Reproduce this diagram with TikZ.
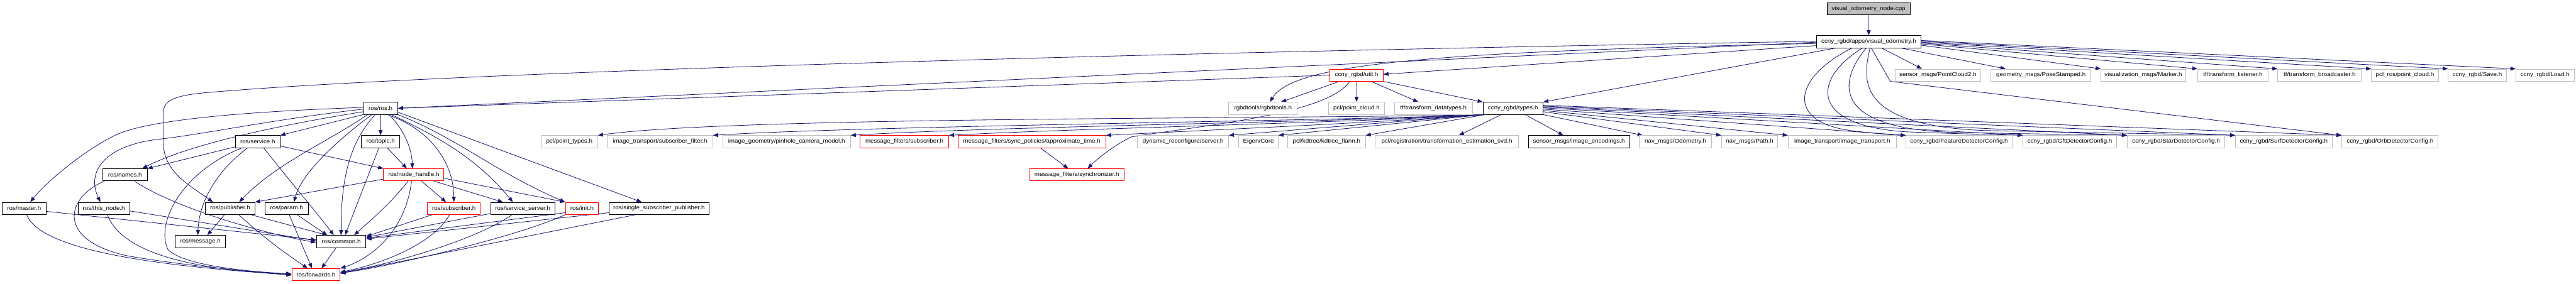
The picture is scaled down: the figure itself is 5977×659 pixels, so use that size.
\documentclass[tikz,border=0pt]{standalone}
\usepackage{fontspec}
\usetikzlibrary{arrows.meta,backgrounds}
\newfontfamily\nf[FakeStretch=1.1]{Liberation Sans}
\definecolor{eblue}{HTML}{191970}
\definecolor{gbord}{HTML}{BFBFBF}
\definecolor{rootfill}{HTML}{BFBFBF}
\tikzset{
  box/.style={draw, rectangle, fill=white, minimum height=28pt, inner sep=0pt, line width=1.3pt, font=\nf\fontsize{13}{15}\selectfont, text=black},
  bk/.style={box, draw=black},
  rd/.style={box, draw=red},
  gy/.style={box, draw=gbord},
  rt/.style={box, draw=black, fill=rootfill},
  e/.style={draw=eblue, line width=1.2pt, -{Triangle[length=12pt,width=9pt]}},
}
\begin{document}
\begin{tikzpicture}[x=1pt,y=-1pt]
% row 0
\node[rt, minimum width=193pt] (root) at (4335.5,20) {visual\_odometry\_node.cpp};
% row 1
\node[bk, minimum width=242pt] (vo) at (4336,97) {ccny\_rgbd/apps/visual\_odometry.h};
% row 2
\node[rd, minimum width=123pt] (util) at (3147.5,174.5) {ccny\_rgbd/util.h};
\node[gy, minimum width=199pt] (pctwo) at (4496.5,174.5) {sensor\_msgs/PointCloud2.h};
\node[gy, minimum width=232pt] (pose) at (4735.5,174.5) {geometry\_msgs/PoseStamped.h};
\node[gy, minimum width=196pt] (marker) at (4973,174.5) {visualization\_msgs/Marker.h};
\node[gy, minimum width=164pt] (tfl) at (5181,174.5) {tf/transform\_listener.h};
\node[gy, minimum width=194pt] (tfb) at (5382,174.5) {tf/transform\_broadcaster.h};
\node[gy, minimum width=155pt] (pclros) at (5580,174.5) {pcl\_ros/point\_cloud.h};
\node[gy, minimum width=135pt] (save) at (5748,174.5) {ccny\_rgbd/Save.h};
\node[gy, minimum width=135pt] (load) at (5905,174.5) {ccny\_rgbd/Load.h};
% row 3
\node[bk, minimum width=79pt] (ros) at (883,251.5) {ros/ros.h};
\node[gy, minimum width=159pt] (rgbd) at (2930.5,251.5) {rgbdtools/rgbdtools.h};
\node[gy, minimum width=129pt] (pclpc) at (3147.5,251.5) {pcl/point\_cloud.h};
\node[gy, minimum width=182pt] (tfdt) at (3326,251.5) {tf/transform\_datatypes.h};
\node[bk, minimum width=139pt] (types) at (3510.5,251.5) {ccny\_rgbd/types.h};
% row 4
\node[bk, minimum width=103pt] (service) at (598,329) {ros/service.h};
\node[bk, minimum width=89pt] (topic) at (883,329) {ros/topic.h};
\node[gy, minimum width=131pt] (ptypes) at (1321,329) {pcl/point\_types.h};
\node[gy, minimum width=244pt] (subfilt) at (1531.5,329) {image\_transport/subscriber\_filter.h};
\node[gy, minimum width=296pt] (pinhole) at (1825,329) {image\_geometry/pinhole\_camera\_model.h};
\node[rd, minimum width=205pt] (mfsub) at (2098.5,329) {message\_filters/subscriber.h};
\node[rd, minimum width=343pt] (approx) at (2394,329) {message\_filters/sync\_policies/approximate\_time.h};
\node[gy, minimum width=211pt] (dynrec) at (2745,329) {dynamic\_reconfigure/server.h};
\node[gy, minimum width=91pt] (eigen) at (2920,329) {Eigen/Core};
\node[gy, minimum width=180pt] (kdtree) at (3078,329) {pcl/kdtree/kdtree\_flann.h};
\node[gy, minimum width=333pt] (svd) at (3357,329) {pcl/registration/transformation\_estimation\_svd.h};
\node[bk, minimum width=235pt] (enc) at (3663.5,329) {sensor\_msgs/image\_encodings.h};
\node[gy, minimum width=167pt] (odom) at (3887.5,329) {nav\_msgs/Odometry.h};
\node[gy, minimum width=130pt] (npath) at (4059.5,329) {nav\_msgs/Path.h};
\node[gy, minimum width=251pt] (itrans) at (4274.5,329) {image\_transport/image\_transport.h};
\node[gy, minimum width=246pt] (feat) at (4545.5,329) {ccny\_rgbd/FeatureDetectorConfig.h};
\node[gy, minimum width=217pt] (gft) at (4802.5,329) {ccny\_rgbd/GftDetectorConfig.h};
\node[gy, minimum width=226pt] (star) at (5049,329) {ccny\_rgbd/StarDetectorConfig.h};
\node[gy, minimum width=224pt] (surf) at (5299,329) {ccny\_rgbd/SurfDetectorConfig.h};
\node[gy, minimum width=223pt] (orb) at (5545.5,329) {ccny\_rgbd/OrbDetectorConfig.h};
% row 5
\node[bk, minimum width=103pt] (names) at (290,406) {ros/names.h};
\node[rd, minimum width=140pt] (nh) at (960,406) {ros/node\_handle.h};
\node[rd, minimum width=219pt] (sync) at (2498.5,406) {message\_filters/synchronizer.h};
% row 6
\node[bk, minimum width=103pt] (master) at (56,484) {ros/master.h};
\node[bk, minimum width=120pt] (thisnode) at (241,484) {ros/this\_node.h};
\node[bk, minimum width=114pt] (publisher) at (534,484) {ros/publisher.h};
\node[bk, minimum width=100pt] (param) at (665,484) {ros/param.h};
\node[rd, minimum width=122pt] (subscriber) at (1053,484) {ros/subscriber.h};
\node[bk, minimum width=149pt] (sserver) at (1213,484) {ros/service\_server.h};
\node[rd, minimum width=77pt] (init) at (1350.5,484) {ros/init.h};
\node[bk, minimum width=232pt] (ssp) at (1529,484) {ros/single\_subscriber\_publisher.h};
% row 7
\node[bk, minimum width=117pt] (message) at (465,561) {ros/message.h};
\node[bk, minimum width=115pt] (common) at (791.5,561) {ros/common.h};
% row 8
\node[rd, minimum width=112pt] (forwards) at (733,638) {ros/forwards.h};

\begin{scope}[on background layer]
\fill[white] (0,0) rectangle (5977,659);
% root
\draw[e] (root) -- (vo);
% visual_odometry.h
\draw[e] ([yshift=-1pt]vo.west) -- (ros.east);
\draw[e] ([yshift=1pt]vo.west) .. controls (2500,125) and (1000,170) .. (480,215) .. controls (400,222) and (379,235) .. (379,262) -- (379,330) .. controls (379,400) and (440,430) .. ([xshift=-40pt]publisher.north);
\draw[e] ([yshift=-9pt]vo.west) -- ([yshift=2pt]util.east);
\draw[e] ([yshift=-4pt]vo.west) .. controls (3300,120) and (3000,150) .. ([xshift=16pt]rgbd.north);
\draw[e] ([xshift=-77pt]vo.south) -- (types.north east);
\draw[e] ([xshift=30pt]vo.south) -- ([xshift=-37pt]pctwo.north);
\draw[e] ([xshift=75pt]vo.south) -- ([xshift=-82pt]pose.north);
\draw[e] ([yshift=-8pt]vo.east) -- (marker.north west);
\draw[e] ([yshift=-5pt]vo.east) -- (tfl.north west);
\draw[e] ([yshift=-3pt]vo.east) -- (tfb.north west);
\draw[e] ([yshift=-1pt]vo.east) -- (pclros.north west);
\draw[e] ([yshift=1pt]vo.east) -- (save.north west);
\draw[e] ([yshift=3pt]vo.east) -- (load.north west);
\draw[e] ([xshift=-39pt]vo.south) .. controls (4160,180) and (4140,285) .. (4300,304) .. controls (4370,312) and (4400,314) .. (feat.north west);
\draw[e] ([xshift=-15pt]vo.south) .. controls (4210,180) and (4190,290) .. (4420,306) .. controls (4600,313) and (4660,313) .. (gft.north west);
\draw[e] ([xshift=-6pt]vo.south) .. controls (4265,190) and (4250,295) .. (4520,307) .. controls (4800,313) and (4900,313) .. (star.north west);
\draw[e] ([xshift=3pt]vo.south) .. controls (4320,190) and (4310,290) .. (4600,303) .. controls (5000,311) and (5150,313) .. (surf.north west);
\draw[e] ([xshift=6pt]vo.south) -- (4386,189) -- (orb.north west);
% types.h
\draw[e] ([xshift=28pt]types.south) -- ([xshift=-36pt]enc.north);
\draw[e] (types.south east) -- ([xshift=-76pt]odom.north);
\draw[e] ([yshift=-8pt]types.east) -- (npath.north west);
\draw[e] ([yshift=-5pt]types.east) -- (itrans.north west);
\draw[e] ([yshift=-2pt]types.east) -- (feat.north west);
\draw[e] ([yshift=1pt]types.east) -- (gft.north west);
\draw[e] ([yshift=3pt]types.east) -- (star.north west);
\draw[e] ([yshift=5pt]types.east) -- (surf.north west);
\draw[e] ([yshift=7pt]types.east) -- (orb.north west);
\draw[e] ([xshift=-27pt]types.south) -- ([xshift=28pt]svd.north);
\draw[e] ([xshift=6pt]types.south west) -- (kdtree.north east);
\draw[e] ([xshift=4pt]types.south west) -- (eigen.north east);
\draw[e] ([xshift=2pt]types.south west) -- (dynrec.north east);
\draw[e] (types.south west) .. controls (3200,285) and (2800,302) .. (approx.north east);
\draw[e] (types.south west) .. controls (3200,283) and (2500,298) .. (mfsub.north east);
\draw[e] (types.south west) .. controls (3200,281) and (2300,294) .. (pinhole.north east);
\draw[e] (types.south west) .. controls (3200,279) and (2000,292) .. (subfilt.north east);
\draw[e] (types.south west) .. controls (3000,277) and (1700,270) .. (ptypes.north east);
% util.h
\draw[e] (util.west) -- (ros.east);
\draw[e] ([xshift=-40pt]util.south) -- ([xshift=42pt]rgbd.north);
\draw[e] (util.south) -- (pclpc.north);
\draw[e] ([xshift=34pt]util.south) -- ([xshift=-35pt]tfdt.north);
\draw[e] (util.south east) -- (types.north west);
\draw[e] ([xshift=-16pt]util.south) .. controls (3080,265) and (2800,290) .. (2625,318) .. controls (2580,340) and (2545,370) .. ([xshift=25pt]sync.north);
\draw[e] ([xshift=20pt]approx.south) -- ([xshift=-20pt]sync.north);
% ros/ros.h
\draw[e] (ros.south) -- (topic.north);
\draw[e] ([yshift=2pt]ros.west) .. controls (600,258) and (360,275) .. (274,311) .. controls (200,345) and (110,420) .. ([xshift=14pt]master.north);
\draw[e] ([yshift=-2pt]ros.west) .. controls (650,275) and (480,310) .. (380,322) .. controls (240,335) and (200,400) .. ([xshift=-8pt]thisnode.north);
\draw[e] ([yshift=-8pt]ros.west) .. controls (650,290) and (440,335) .. ([xshift=40pt]names.north);
\draw[e] (ros.south west) -- (service.north east);
\draw[e] ([xshift=-30pt]ros.south) .. controls (760,330) and (640,380) .. ([xshift=21pt]publisher.north);
\draw[e] ([xshift=-20pt]ros.south) .. controls (790,320) and (700,400) .. ([xshift=17pt]param.north);
\draw[e] ([xshift=-12pt]ros.south) .. controls (810,330) and (791,420) .. (common.north);
\draw[e] ([xshift=20pt]ros.south) .. controls (935,300) and (955,340) .. ([xshift=-3pt]nh.north);
\draw[e] ([xshift=15pt]ros.south) .. controls (1000,300) and (1053,380) .. (subscriber.north);
\draw[e] ([xshift=25pt]ros.south) .. controls (1000,310) and (1100,360) .. ([xshift=-23pt]sserver.north);
\draw[e] (ros.south east) .. controls (1060,320) and (1150,400) .. (init.north west);
\draw[e] ([yshift=-9pt]ros.east) -- ([xshift=-40pt]ssp.north);
% ros/service.h
\draw[e] ([yshift=-12pt]service.west) -- (names.north east);
\draw[e] ([yshift=-10pt]service.east) -- (nh.north west);
\draw[e] ([xshift=-24pt]service.south) .. controls (500,400) and (462,470) .. ([xshift=-6pt]message.north);
\draw[e] ([xshift=14pt]service.south) .. controls (680,430) and (740,500) .. ([xshift=-17pt]common.north);
\draw[e] ([xshift=-37pt]service.south) .. controls (420,400) and (360,520) .. (390,580) .. controls (430,620) and (600,632) .. ([yshift=2pt]forwards.west);
% ros/topic.h
\draw[e] ([xshift=16pt]topic.south) -- ([xshift=-16pt]nh.north);
\draw[e] ([xshift=-4pt]topic.south) -- ([xshift=9pt]common.north);
% ros/names.h
\draw[e] ([xshift=22pt]names.south) .. controls (400,480) and (600,540) .. ([yshift=-2pt]common.west);
\draw[e] ([xshift=-48pt]names.south) .. controls (150,460) and (130,560) .. (300,595) .. controls (450,620) and (600,632) .. (forwards.west);
% ros/node_handle.h
\draw[e] ([yshift=-10pt]nh.west) -- (publisher.north east);
\draw[e] ([xshift=-13pt]nh.south) .. controls (900,480) and (850,520) .. ([xshift=30pt]common.north);
\draw[e] ([xshift=-5pt]nh.south) .. controls (940,540) and (860,600) .. (forwards.north east);
\draw[e] ([xshift=18pt]nh.south) -- ([xshift=-18pt]subscriber.north);
\draw[e] ([xshift=47pt]nh.south) -- ([xshift=-46pt]sserver.north);
\draw[e] ([yshift=-8pt]nh.east) -- (init.north west);
% row 6
\draw[e] ([yshift=-7pt]master.east) -- ([yshift=4pt]common.west);
\draw[e] ([xshift=6pt]master.south) .. controls (100,600) and (500,625) .. ([yshift=-1pt]forwards.west);
\draw[e] ([yshift=-6pt]thisnode.east) -- ([yshift=2pt]common.west);
\draw[e] ([xshift=8pt]thisnode.south) .. controls (280,580) and (420,625) .. ([yshift=1pt]forwards.west);
\draw[e] ([xshift=-13pt]publisher.south) -- ([xshift=16pt]message.north);
\draw[e] ([xshift=48pt]publisher.south) -- ([xshift=-32pt]common.north);
\draw[e] ([xshift=20pt]publisher.south) .. controls (620,560) and (680,600) .. ([xshift=-19pt]forwards.north);
\draw[e] ([xshift=24pt]param.south) -- ([xshift=-32pt]common.north);
\draw[e] ([xshift=6pt]param.south) -- ([xshift=-9pt]forwards.north);
\draw[e] ([xshift=-50pt]subscriber.south) -- ([yshift=12pt]common.east);
\draw[e] ([xshift=-10pt]subscriber.south) .. controls (1010,560) and (900,610) .. ([yshift=6pt]forwards.east);
\draw[e] ([yshift=-12pt]sserver.west) -- ([yshift=10pt]common.east);
\draw[e] ([xshift=-25pt]sserver.south) .. controls (1100,560) and (900,615) .. ([yshift=5pt]forwards.east);
\draw[e] ([yshift=-10pt]init.west) -- ([yshift=8pt]common.east);
\draw[e] (init.south west) .. controls (1200,550) and (900,620) .. ([yshift=4pt]forwards.east);
\draw[e] ([yshift=-10pt]ssp.west) -- ([yshift=6pt]common.east);
\draw[e] ([xshift=-54pt]ssp.south) -- ([yshift=3pt]forwards.east);
% ros/common.h
\draw[e] ([xshift=-12pt]common.south) -- ([xshift=13pt]forwards.north);
\end{scope}
\end{tikzpicture}
\end{document}
